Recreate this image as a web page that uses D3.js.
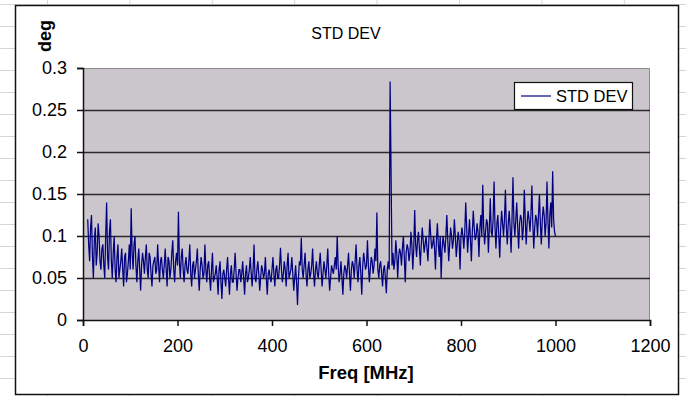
<!DOCTYPE html>
<html><head><meta charset="utf-8">
<script src="https://cdn.jsdelivr.net/npm/d3@7"></script>
<style>html,body{margin:0;padding:0;background:#fff;overflow:hidden}svg{display:block;font-family:"Liberation Sans",Arial,sans-serif}</style>
</head><body>
<script>
// Frequency grid (MHz) and read-off STD DEV values (deg), one value every 2 MHz from 10 to 1000
const freqStart = 10, freqStep = 2;
const stdDev = [
// 10-100
0.12,0.09,0.07,0.11,0.125,0.075,0.05,0.095,0.11,0.065,0.08,0.115,0.10,0.07,0.06,0.085,0.09,0.065,0.05,0.10,0.14,0.075,0.06,0.105,0.12,0.07,0.05,0.08,0.10,0.06,0.045,0.075,0.09,0.05,0.06,0.07,0.085,0.06,0.04,0.075,0.08,0.045,0.055,0.07,0.09,0.06,
// 102-200
0.133,0.08,0.06,0.09,0.10,0.065,0.045,0.07,0.085,0.06,0.035,0.065,0.08,0.07,0.055,0.075,0.09,0.06,0.05,0.08,0.075,0.055,0.04,0.065,0.07,0.075,0.055,0.06,0.09,0.065,0.045,0.07,0.075,0.06,0.05,0.065,0.085,0.06,0.04,0.075,0.07,0.05,0.06,0.08,0.095,0.06,0.045,0.07,0.08,0.065,
// 202-300
0.129,0.07,0.05,0.075,0.085,0.06,0.045,0.065,0.075,0.06,0.055,0.07,0.09,0.055,0.04,0.065,0.07,0.05,0.06,0.07,0.085,0.055,0.035,0.06,0.075,0.065,0.05,0.055,0.09,0.06,0.045,0.065,0.07,0.05,0.035,0.06,0.08,0.045,0.05,0.055,0.065,0.05,0.03,0.06,0.07,0.045,0.025,0.055,0.06,0.05,
// 302-400
0.04,0.06,0.075,0.05,0.03,0.055,0.065,0.045,0.045,0.06,0.08,0.055,0.035,0.05,0.06,0.06,0.045,0.055,0.07,0.05,0.03,0.055,0.065,0.045,0.05,0.06,0.075,0.055,0.04,0.06,0.09,0.05,0.045,0.06,0.07,0.055,0.035,0.05,0.065,0.06,0.05,0.055,0.075,0.05,0.03,0.055,0.06,0.05,0.045,0.06,
// 402-500
0.075,0.055,0.04,0.06,0.065,0.05,0.05,0.065,0.086,0.06,0.045,0.055,0.07,0.06,0.04,0.065,0.08,0.05,0.055,0.06,0.075,0.055,0.035,0.05,0.065,0.045,0.018,0.05,0.07,0.065,0.098,0.06,0.05,0.065,0.08,0.055,0.04,0.06,0.07,0.05,0.055,0.065,0.085,0.055,0.04,0.06,0.07,0.055,0.05,0.065,
// 502-600
0.08,0.06,0.04,0.055,0.07,0.06,0.05,0.065,0.085,0.055,0.035,0.05,0.065,0.06,0.055,0.065,0.075,0.06,0.10,0.065,0.045,0.055,0.07,0.05,0.03,0.055,0.065,0.06,0.05,0.065,0.08,0.055,0.035,0.06,0.07,0.065,0.05,0.07,0.09,0.06,0.045,0.065,0.075,0.055,0.03,0.065,0.08,0.07,0.06,0.065,
// 602-700
0.095,0.065,0.045,0.06,0.075,0.07,0.055,0.065,0.085,0.07,0.128,0.06,0.05,0.065,0.07,0.055,0.04,0.06,0.065,0.05,0.032,0.06,0.07,0.06,0.284,0.177,0.065,0.08,0.06,0.07,0.095,0.08,0.05,0.075,0.085,0.08,0.065,0.085,0.10,0.075,0.045,0.08,0.09,0.085,0.07,0.08,0.105,0.09,0.06,0.085,
// 702-800
0.131,0.09,0.075,0.095,0.105,0.085,0.065,0.09,0.11,0.095,0.08,0.09,0.10,0.085,0.07,0.095,0.12,0.10,0.085,0.09,0.10,0.085,0.06,0.095,0.115,0.09,0.075,0.10,0.05,0.085,0.10,0.09,0.08,0.10,0.125,0.095,0.07,0.09,0.11,0.10,0.085,0.095,0.12,0.10,0.075,0.09,0.105,0.095,0.06,0.10,
// 802-900
0.11,0.10,0.085,0.105,0.14,0.11,0.08,0.10,0.12,0.095,0.07,0.105,0.13,0.11,0.095,0.10,0.115,0.105,0.075,0.11,0.125,0.10,0.161,0.11,0.09,0.105,0.12,0.115,0.08,0.11,0.145,0.105,0.10,0.12,0.165,0.11,0.085,0.115,0.125,0.10,0.074,0.11,0.13,0.115,0.10,0.12,0.155,0.11,0.09,0.115,
// 902-1000
0.13,0.11,0.08,0.12,0.17,0.115,0.10,0.12,0.14,0.11,0.085,0.115,0.125,0.12,0.095,0.11,0.155,0.12,0.09,0.115,0.13,0.12,0.105,0.125,0.16,0.115,0.085,0.11,0.125,0.12,0.10,0.125,0.15,0.115,0.09,0.12,0.135,0.125,0.10,0.115,0.165,0.12,0.085,0.125,0.14,0.11,0.177,0.12,0.105,0.10
];
const freqs = stdDev.map((_, i) => freqStart + i * freqStep);
const xTicks = [0, 200, 400, 600, 800, 1000, 1200];
const yTicks = [0, 0.05, 0.1, 0.15, 0.2, 0.25, 0.3];
const title = "STD DEV", xTitle = "Freq [MHz]", yTitle = "deg", seriesName = "STD DEV";

const W = 686, H = 396;
const svg = d3.select("body").append("svg").attr("width", W).attr("height", H);

// spreadsheet grid behind the chart object
const sheet = svg.append("g").attr("stroke", "#d6d6d6").attr("stroke-width", 1);
sheet.selectAll("line.v").data(d3.range(8)).join("line")
  .attr("x1", i => 47.5 + i * 82.4).attr("x2", i => 47.5 + i * 82.4).attr("y1", 0).attr("y2", H);
sheet.selectAll("line.h").data(d3.range(19)).join("line")
  .attr("y1", i => 4.5 + i * 22).attr("y2", i => 4.5 + i * 22).attr("x1", 0).attr("x2", W);

// chart area
svg.append("rect").attr("x", 15.5).attr("y", 5.5).attr("width", 663).attr("height", 389)
  .attr("fill", "#fff").attr("stroke", "#111").attr("stroke-width", 1.5);

const L = 83, R = 650, T = 68, B = 320;
const x = d3.scaleLinear().domain([0, 1200]).range([L, R]);
const y = d3.scaleLinear().domain([0, 0.3]).range([B, T]);

svg.append("rect").attr("x", L).attr("y", T).attr("width", R - L).attr("height", B - T)
  .attr("fill", "#cbc6cc");
svg.append("path").attr("d", `M${L},${T + 0.5}H${R - 0.5}V${B}`).attr("fill", "none").attr("stroke", "#8a8a8a").attr("stroke-width", 1);

// gridlines
svg.append("g").selectAll("line").data(yTicks.filter(d => d > 0 && d < 0.3)).join("line")
  .attr("x1", L).attr("x2", R).attr("y1", d => Math.round(y(d)) + 0.5).attr("y2", d => Math.round(y(d)) + 0.5)
  .attr("stroke", "#2a2a2a").attr("stroke-width", 1.6);

// line
const line = d3.line().x((d, i) => x(freqs[i])).y(d => y(d));
svg.append("path").datum(stdDev).attr("d", line).attr("fill", "none")
  .attr("stroke", "#000080").attr("stroke-width", 1.25).attr("stroke-linejoin", "miter");

// axes
const xAxis = svg.append("g").attr("transform", `translate(0,${B})`)
  .call(d3.axisBottom(x).tickValues(xTicks).tickSize(6).tickPadding(13).tickFormat(d3.format("d")));
const yAxis = svg.append("g").attr("transform", `translate(${L},0)`)
  .call(d3.axisLeft(y).tickValues(yTicks).tickSize(6).tickPadding(10).tickFormat(d => d === 0 ? "0" : String(+d.toFixed(2))));
[xAxis, yAxis].forEach(g => {
  g.select(".domain").attr("stroke", "#111").attr("stroke-width", 1.5);
  g.selectAll(".tick line").attr("stroke", "#111").attr("stroke-width", 1.5);
  g.selectAll("text").attr("fill", "#000").style("font-size", "18px").style("font-family", '"Liberation Sans",Arial,sans-serif');
});
xAxis.selectAll("text").attr("dy", "0.71em");

// titles
svg.append("text").attr("x", 346).attr("y", 39).attr("text-anchor", "middle")
  .style("font-size", "16px").text(title);
svg.append("text").attr("x", 366).attr("y", 379).attr("text-anchor", "middle")
  .style("font-size", "18.5px").style("font-weight", "bold").text(xTitle);
svg.append("text").attr("transform", "translate(51,36) rotate(-90)").attr("text-anchor", "middle")
  .style("font-size", "18px").style("font-weight", "bold").text(yTitle);

// legend
const lg = svg.append("g");
lg.append("rect").attr("x", 514.5).attr("y", 82.5).attr("width", 118).attr("height", 27)
  .attr("fill", "#fff").attr("stroke", "#111").attr("stroke-width", 1.2);
lg.append("line").attr("x1", 521).attr("x2", 551).attr("y1", 96).attr("y2", 96).attr("stroke", "#000080").attr("stroke-width", 1.2);
lg.append("text").attr("x", 556).attr("y", 102).style("font-size", "16.5px").text(seriesName);
</script>
</body></html>
